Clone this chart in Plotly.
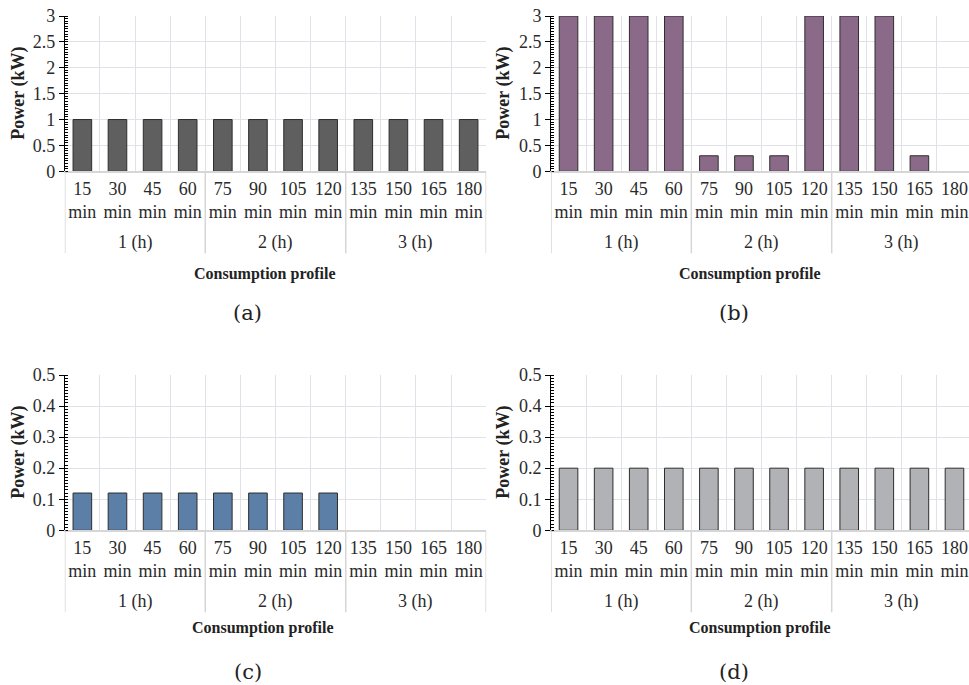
import plotly.graph_objects as go

# ---- data ----
minutes = ["15", "30", "45", "60", "75", "90", "105", "120", "135", "150", "165", "180"]
hour_groups = ["1 (h)", "2 (h)", "3 (h)"]
power_a = [1, 1, 1, 1, 1, 1, 1, 1, 1, 1, 1, 1]
power_b = [3, 3, 3, 3, 0.3, 0.3, 0.3, 3, 3, 3, 0.3, 0]
power_c = [0.12, 0.12, 0.12, 0.12, 0.12, 0.12, 0.12, 0.12, 0, 0, 0, 0]
power_d = [0.2, 0.2, 0.2, 0.2, 0.2, 0.2, 0.2, 0.2, 0.2, 0.2, 0.2, 0.2]
panel_labels = ["(a)", "(b)", "(c)", "(d)"]
x_title = "Consumption profile"
y_title = "Power (kW)"

W, H = 969, 685
SERIF = "Liberation Serif"
GRID = "#e1e1e8"
SEP = "#d6d6d6"

panels = [
    dict(v=power_a, color="#5f5f5f", xd=(64.8, 486.2), yt=16, yb=171.3, ymax=3, dt=0.5, mdt=0.05,
         xt=(265, 274), lab=(248, 313), yx=19),
    dict(v=power_b, color="#8b6a89", xd=(551, 969), yt=16, yb=171.3, ymax=3, dt=0.5, mdt=0.05,
         xt=(750, 274), lab=(734, 313), yx=504),
    dict(v=power_c, color="#5b7fa7", xd=(64.8, 486.2), yt=375, yb=530.3, ymax=0.5, dt=0.1, mdt=0.01,
         xt=(263, 628), lab=(248, 672), yx=19),
    dict(v=power_d, color="#b1b2b6", xd=(551, 969), yt=375, yb=530.3, ymax=0.5, dt=0.1, mdt=0.01,
         xt=(760, 628), lab=(734, 672), yx=504),
]

fig = go.Figure()
annotations = []
shapes = []
ticktext = [m + "<br>min" for m in minutes]
xs = list(range(len(minutes)))

for i, p in enumerate(panels):
    n = "" if i == 0 else str(i + 1)
    xa, ya = "x" + n, "y" + n
    xdom = [p["xd"][0] / W, p["xd"][1] / W]
    ydom = [1 - p["yb"] / H, 1 - p["yt"] / H]
    cat_w = (p["xd"][1] - p["xd"][0]) / 12.0
    if p["xd"][1] >= W:
        xr = [-0.5, 11.5 - 3 / cat_w]
    else:
        xr = [-0.5, 11.5]
    fig.add_trace(go.Bar(
        x=xs, y=p["v"], xaxis=xa, yaxis=ya, width=0.53,
        marker=dict(color=p["color"],
                    line=dict(color="#2e2e2e", width=[1 if v > 0 else 0 for v in p["v"]])),
        showlegend=False, hoverinfo="skip",
    ))
    fig.layout["xaxis" + n] = dict(
        domain=xdom, range=xr, anchor=ya, automargin=False,
        tickmode="array", tickvals=xs, ticktext=ticktext,
        ticks="", showgrid=False, zeroline=False,
        showline=True, linecolor=SEP, linewidth=2,
        tickfont=dict(family=SERIF, size=18, color="#2a2a2a"),
        minor=dict(tickmode="array", tickvals=[k - 0.5 for k in range(13)],
                   showgrid=True, gridcolor=GRID, gridwidth=1, ticks=""),
        fixedrange=True,
    )
    fig.layout["yaxis" + n] = dict(
        domain=ydom, range=[0, p["ymax"]], anchor=xa, automargin=False,
        tickmode="linear", tick0=0, dtick=p["dt"],
        ticks="outside", ticklen=5, tickcolor="#000", tickwidth=1,
        showline=True, linecolor="#000", linewidth=1,
        showgrid=True, gridcolor=GRID, gridwidth=1, zeroline=False,
        tickfont=dict(family=SERIF, size=18, color="#2a2a2a"),
        minor=dict(tick0=0, dtick=p["mdt"], ticks="inside", ticklen=3,
                   tickcolor="#000", tickwidth=1, showgrid=False),
        fixedrange=True,
    )
    dom_h = p["yb"] - p["yt"]
    for b in [-0.5, 3.5, 7.5, 11.5]:
        shapes.append(dict(type="line", xref=xa, yref=ya + " domain",
                           x0=b, x1=b, y0=0, y1=-82 / dom_h,
                           line=dict(color=SEP, width=1.5)))
    for g, label in enumerate(hour_groups):
        annotations.append(dict(text=label, xref=xa, yref=ya + " domain",
                                x=g * 4 + 1.5, y=-71.5 / dom_h,
                                xanchor="center", yanchor="middle",
                                showarrow=False,
                                font=dict(family=SERIF, size=18, color="#2a2a2a")))
    annotations.append(dict(text="<b>" + x_title + "</b>", xref="paper", yref="paper",
                            x=p["xt"][0] / W, y=1 - p["xt"][1] / H,
                            xanchor="center", yanchor="middle",
                            showarrow=False,
                            font=dict(family=SERIF, size=16, color="#222")))
    annotations.append(dict(text="<b>" + y_title + "</b>", xref="paper", yref="paper",
                            x=p["yx"] / W, y=1 - (p["yt"] + p["yb"]) / 2 / H,
                            xanchor="center", yanchor="middle", textangle=-90,
                            showarrow=False,
                            font=dict(family=SERIF, size=18, color="#222")))
    annotations.append(dict(text=panel_labels[i], xref="paper", yref="paper",
                            x=p["lab"][0] / W, y=1 - p["lab"][1] / H,
                            xanchor="center", yanchor="middle", showarrow=False,
                            font=dict(family="DejaVu Serif", size=21, color="#222")))

fig.update_layout(
    width=W, height=H, margin=dict(l=0, r=0, t=0, b=0, autoexpand=False),
    paper_bgcolor="white", plot_bgcolor="white",
    annotations=annotations, shapes=shapes, bargap=0.47,
)
fig.write_html("out.html", config={"displayModeBar": False},
               post_script="document.body.style.margin='0';document.body.style.overflow='hidden';")
